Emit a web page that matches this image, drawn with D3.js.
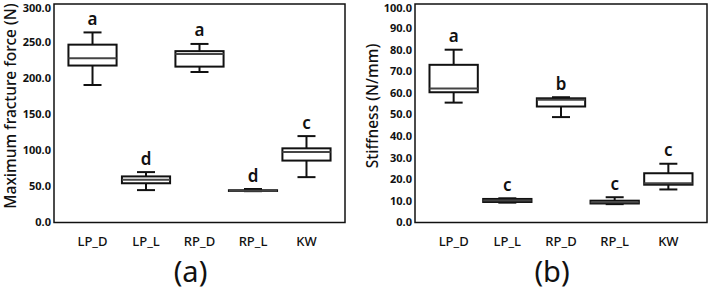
<!DOCTYPE html>
<html>
<head>
<meta charset="utf-8">
<script src="https://cdn.jsdelivr.net/npm/d3@7"></script>
<style>
  body { margin: 0; background: #fff; }
  text { font-family: "Noto Sans", sans-serif; fill: #111; }
</style>
</head>
<body>
<div id="chart"></div>
<script>
// groups
var categories = ["LP_D", "LP_L", "RP_D", "RP_L", "KW"];

// (a) maximum fracture force (N)
var forceMin    = [191, 45, 209, 43.5, 63];
var forceQ1     = [218, 54.5, 216.5, 43.8, 86];
var forceMedian = [228, 59.5, 234, 44.2, 98];
var forceQ3     = [247, 64, 238, 44.8, 103];
var forceMax    = [264, 70, 248, 46.5, 120];
var forceLetters = ["a", "d", "a", "d", "c"];
var forceTicks = [0, 50, 100, 150, 200, 250, 300];

// (b) stiffness (N/mm)
var stiffMin    = [55.5, 9.2, 48.8, 8.5, 15.3];
var stiffQ1     = [60.3, 9.5, 53.7, 8.8, 17.5];
var stiffMedian = [62, 10.2, 56.8, 9.4, 18.2];
var stiffQ3     = [73, 10.9, 57.5, 10.1, 22.8];
var stiffMax    = [80, 11.2, 58, 11.7, 27.2];
var stiffLetters = ["a", "c", "b", "c", "c"];
var stiffTicks = [0, 10, 20, 30, 40, 50, 60, 70, 80, 90, 100];

var width = 709, height = 292;

var svg = d3.select("#chart").append("svg")
    .attr("width", width)
    .attr("height", height);

var panels = [
  {left: 54, right: 345, max: 300, ticks: forceTicks, title: "Maximum fracture force (N)", titleX: 11,
   min: forceMin, q1: forceQ1, med: forceMedian, q3: forceQ3, mx: forceMax, letters: forceLetters, tag: "(a)"},
  {left: 415, right: 707, max: 100, ticks: stiffTicks, title: "Stiffness (N/mm)", titleX: 373,
   min: stiffMin, q1: stiffQ1, med: stiffMedian, q3: stiffQ3, mx: stiffMax, letters: stiffLetters, tag: "(b)"}
];

panels.forEach(function(p) {
  var x = d3.scalePoint().domain(categories).range([p.left, p.right]).padding(0.72);
  var y = d3.scaleLinear().domain([0, p.max]).range([222.5, 6.5]);
  var boxW = x.step() * 0.9;
  var capW = 18;

  var g = svg.append("g");

  // frame
  g.append("rect")
    .attr("x", p.left).attr("y", 4)
    .attr("width", p.right - p.left).attr("height", 222.5 - 4)
    .attr("fill", "none").attr("stroke", "#111").attr("stroke-width", 1.5);

  // y tick labels (top one nudged so it stays inside the page)
  g.selectAll(".ytick").data(p.ticks).enter().append("text")
    .attr("x", p.left - 3)
    .attr("y", function(d) { return Math.max(y(d), 8.5); })
    .attr("dy", "0.35em")
    .attr("text-anchor", "end")
    .style("font-size", "11px")
    .style("font-weight", 700)
    .text(function(d) { return d.toFixed(1); });

  // x labels
  g.selectAll(".xlab").data(categories).enter().append("text")
    .attr("x", function(d) { return x(d); })
    .attr("y", 246)
    .attr("text-anchor", "middle")
    .style("font-size", "13px")
    .style("font-weight", 500)
    .text(function(d) { return d; });

  // axis title
  g.append("text")
    .attr("transform", "translate(" + p.titleX + ",106) rotate(-90)")
    .attr("text-anchor", "middle")
    .attr("dy", "0.35em")
    .style("font-size", "15.5px")
    .style("font-weight", 500)
    .text(p.title);

  var data = categories.map(function(c, i) {
    return {c: c, min: p.min[i], q1: p.q1[i], med: p.med[i], q3: p.q3[i], max: p.mx[i], letter: p.letters[i]};
  });

  var box = g.selectAll(".box").data(data).enter().append("g");

  // whiskers
  box.append("line")
    .attr("x1", function(d) { return x(d.c); }).attr("x2", function(d) { return x(d.c); })
    .attr("y1", function(d) { return y(d.max); }).attr("y2", function(d) { return y(d.q3); })
    .attr("stroke", "#111").attr("stroke-width", 2);
  box.append("line")
    .attr("x1", function(d) { return x(d.c); }).attr("x2", function(d) { return x(d.c); })
    .attr("y1", function(d) { return y(d.q1); }).attr("y2", function(d) { return y(d.min); })
    .attr("stroke", "#111").attr("stroke-width", 2);
  box.append("line")
    .attr("x1", function(d) { return x(d.c) - capW / 2; }).attr("x2", function(d) { return x(d.c) + capW / 2; })
    .attr("y1", function(d) { return y(d.max); }).attr("y2", function(d) { return y(d.max); })
    .attr("stroke", "#111").attr("stroke-width", 2);
  box.append("line")
    .attr("x1", function(d) { return x(d.c) - capW / 2; }).attr("x2", function(d) { return x(d.c) + capW / 2; })
    .attr("y1", function(d) { return y(d.min); }).attr("y2", function(d) { return y(d.min); })
    .attr("stroke", "#111").attr("stroke-width", 2);

  // boxes
  box.append("rect")
    .attr("x", function(d) { return x(d.c) - boxW / 2; })
    .attr("y", function(d) { return y(d.q3); })
    .attr("width", boxW)
    .attr("height", function(d) { return Math.max(0.5, y(d.q1) - y(d.q3)); })
    .attr("fill", "#fff").attr("stroke", "#111").attr("stroke-width", 2);

  // medians
  box.append("line")
    .attr("x1", function(d) { return x(d.c) - boxW / 2; }).attr("x2", function(d) { return x(d.c) + boxW / 2; })
    .attr("y1", function(d) { return y(d.med); }).attr("y2", function(d) { return y(d.med); })
    .attr("stroke", "#444").attr("stroke-width", 2);

  // significance letters
  box.append("text")
    .attr("x", function(d) { return x(d.c); })
    .attr("y", function(d) { return y(d.max) - 7.5; })
    .attr("text-anchor", "middle")
    .style("font-size", "17px")
    .style("font-weight", 600)
    .text(function(d) { return d.letter; });

  // panel tag
  svg.append("text")
    .attr("x", (p.left + p.right) / 2 - 9)
    .attr("y", 282)
    .attr("text-anchor", "middle")
    .style("font-size", "29px")
    .text(p.tag);
});
</script>
</body>
</html>
